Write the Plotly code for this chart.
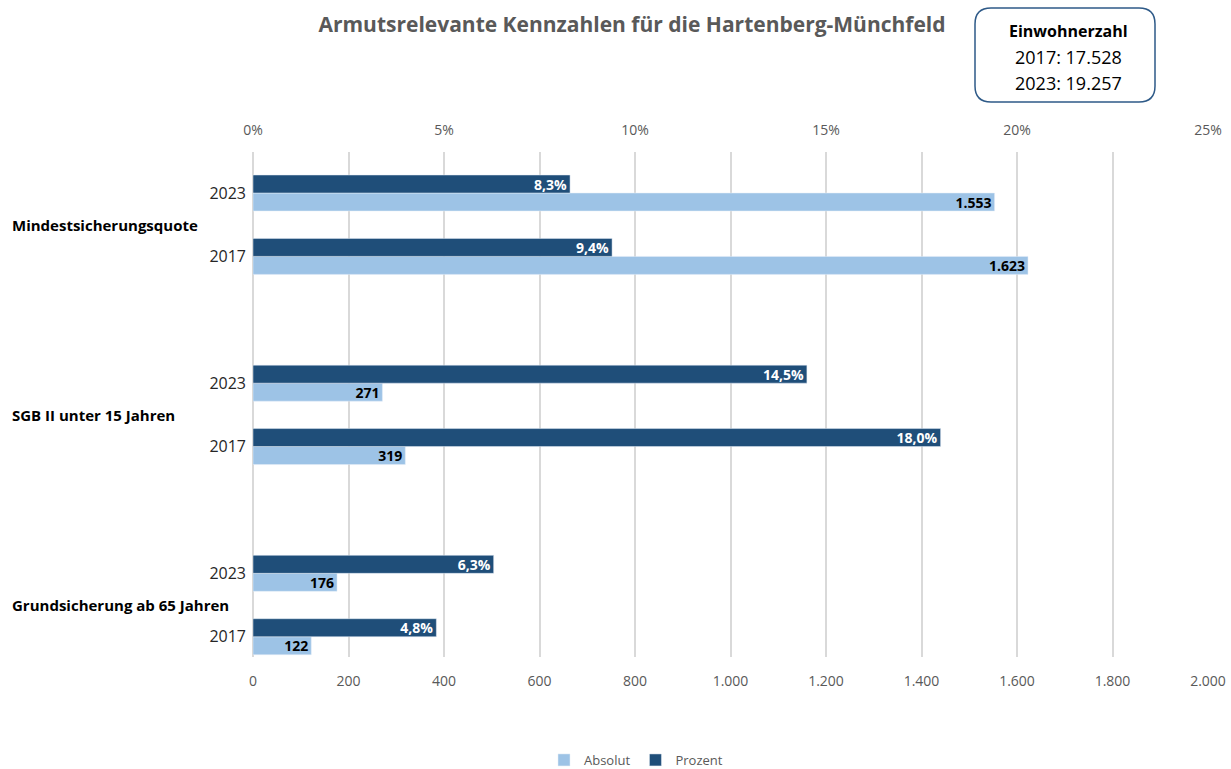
"""Armutsrelevante Kennzahlen - horizontal bar chart with two value axes."""

import plotly.graph_objects as go

groups = ["Mindestsicherungsquote", "SGB II unter 15 Jahren", "Grundsicherung ab 65 Jahren"]
years = ["2023", "2017"]
absolut = [1553, 1623, 271, 319, 176, 122]
prozent = [0.083, 0.094, 0.145, 0.180, 0.063, 0.048]
einwohner_jahre = ["2017", "2023"]
einwohner = ["17.528", "19.257"]

DARK = "#1F4E79"
LIGHT = "#9DC3E6"
GREY = "#595959"
FONT = "Open Sans, sans-serif"

# one empty slot between the groups
pos = [g * 3 + j for g in range(len(groups)) for j in range(len(years))]
labels = [y for _ in groups for y in years]
BAR_W = 0.284

fig = go.Figure()

fig.add_trace(go.Bar(
    y=pos,
    x=absolut,
    orientation="h",
    name="Absolut",
    marker=dict(color=LIGHT),
    width=BAR_W,
    offset=0,
    texttemplate="<b>%{x:,}</b>",
    textposition="inside",
    insidetextanchor="end",
    constraintext="none",
    textfont=dict(color="black", size=14, family=FONT),
    xaxis="x",
))

fig.add_trace(go.Bar(
    y=pos,
    x=prozent,
    orientation="h",
    name="Prozent",
    marker=dict(color=DARK),
    width=BAR_W,
    offset=-BAR_W,
    texttemplate="<b>%{x:.1%}</b>",
    textposition="inside",
    insidetextanchor="end",
    constraintext="none",
    textfont=dict(color="white", size=14, family=FONT),
    xaxis="x2",
))

L, R, T, B = 253, 23, 152, 112
W, H = 1231 - L - R, 769 - T - B


def px_x(p):
    return (p - L) / W


def px_y(p):
    return (769 - B - p) / H


# group labels on the far left
for g, name in enumerate(groups):
    fig.add_annotation(
        x=px_x(10), xref="paper", xanchor="left",
        y=g * 3 + 0.5, yref="y", yanchor="middle",
        text=f"<b>{name}</b>", showarrow=False,
        font=dict(size=15, color="black", family=FONT),
    )

# info box
x0, x1, y0, y1 = px_x(975), px_x(1155), px_y(102), px_y(8)
rx, ry = 16 / W, 16 / H
path = (
    f"M {x0 + rx},{y0} L {x1 - rx},{y0} Q {x1},{y0} {x1},{y0 + ry} "
    f"L {x1},{y1 - ry} Q {x1},{y1} {x1 - rx},{y1} L {x0 + rx},{y1} "
    f"Q {x0},{y1} {x0},{y1 - ry} L {x0},{y0 + ry} Q {x0},{y0} {x0 + rx},{y0} Z"
)
fig.add_shape(type="path", path=path, xref="paper", yref="paper",
              line=dict(color="#2E5A88", width=1.5), fillcolor="white")
box_lines = ["<b>Einwohnerzahl</b>"] + [f"{j}: {e}" for j, e in zip(einwohner_jahre, einwohner)]
for k, line in enumerate(box_lines):
    fig.add_annotation(
        x=px_x(1068), y=px_y(31 + 26 * k), xref="paper", yref="paper",
        xanchor="center", yanchor="middle",
        text=line, showarrow=False,
        font=dict(size=16 if k == 0 else 18, color="black", family=FONT),
    )

fig.update_layout(
    title=dict(
        text="<b>Armutsrelevante Kennzahlen für die Hartenberg-Münchfeld</b>",
        x=632 / 1231, xanchor="center",
        y=1 - 25 / 769, yanchor="middle",
        font=dict(size=21, color=GREY, family=FONT),
    ),
    separators=",.",
    barmode="overlay",
    width=1231,
    height=769,
    paper_bgcolor="white",
    plot_bgcolor="white",
    margin=dict(l=L, r=R, t=T, b=B, autoexpand=False),
    font=dict(family=FONT, color=GREY),
    xaxis=dict(
        range=[0, 2000], dtick=200, tickformat=",d",
        showgrid=True, gridcolor="#D9D9D9", gridwidth=1.5,
        zeroline=True, zerolinecolor="#D9D9D9", zerolinewidth=1.5,
        showline=False, ticks="", ticklabelstandoff=14, automargin=False,
        tickfont=dict(size=14, color=GREY),
    ),
    xaxis2=dict(
        range=[0, 0.25], dtick=0.05, tickformat=".0%",
        overlaying="x", side="top", showgrid=False, zeroline=False,
        showline=False, ticks="", ticklabelstandoff=13, automargin=False,
        tickfont=dict(size=14, color=GREY),
    ),
    yaxis=dict(
        range=[7.32, -0.647],
        tickvals=pos, ticktext=labels,
        showgrid=False, zeroline=False, showline=False, ticks="",
        ticklabelstandoff=6, automargin=False,
        tickfont=dict(size=16, color="#262626"),
    ),
    legend=dict(
        orientation="h", xref="container", x=636 / 1231, xanchor="center",
        y=px_y(760), yanchor="middle",
        font=dict(size=13, color=GREY),
        itemwidth=30,
    ),
)

fig.write_html(
    "out.html",
    config={"displayModeBar": False},
    post_script="document.body.style.margin = '0';",
)
